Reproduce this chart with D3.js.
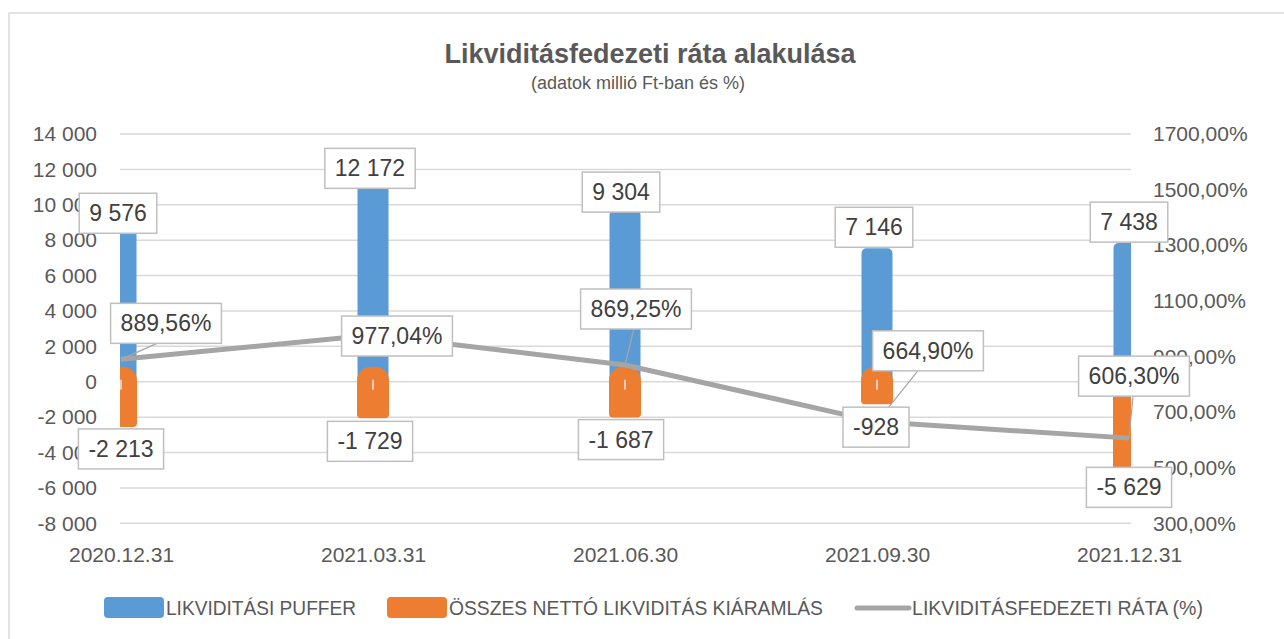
<!DOCTYPE html>
<html><head><meta charset="utf-8">
<script src="https://cdn.jsdelivr.net/npm/d3@7"></script>
<style>
html,body{margin:0;padding:0;background:#fff;}
svg{display:block;font-family:"Liberation Sans",Arial,sans-serif;}
</style></head>
<body><svg id="chart" width="1284" height="639"></svg>
<script>
// ---- data ----
const categories = ["2020.12.31","2021.03.31","2021.06.30","2021.09.30","2021.12.31"];
const puffer = [9576, 12172, 9304, 7146, 7438];
const kiaramlas = [-2213, -1729, -1687, -928, -5629];
const rata = [889.56, 977.04, 869.25, 664.90, 606.30];
const leftTicks = [-8000,-6000,-4000,-2000,0,2000,4000,6000,8000,10000,12000,14000];
const rightTicks = [300,500,700,900,1100,1300,1500,1700];
const seriesNames = ["LIKVIDITÁSI PUFFER","ÖSSZES NETTÓ LIKVIDITÁS KIÁRAMLÁS","LIKVIDITÁSFEDEZETI RÁTA (%)"];
const title = "Likviditásfedezeti ráta alakulása";
const subtitle = "(adatok millió Ft-ban és %)";
// label placement (manual offsets, px), layout only
const pufferLabelOff = [[-3,1],[-3,2],[-4,-25],[-3,-28],[0,-28]];
const kiarLabelOff = [[0,28],[-3,29],[-4,28],[-1,29],[0,6]];
const rataLabelOff = [[45,-36],[24,1],[11,-56],[51,-71],[5,-62]];

const C = {blue:"#5b9bd5", orange:"#ed7d31", gray:"#a5a5a5", text:"#595959", grid:"#d9d9d9", lbl:"#404040", box:"#bfbfbf"};
const svg = d3.select("#chart");
const plot = {l:120, r:1131, t:134, b:523.3};

const x = d3.scalePoint().domain(categories).range([121,1129]);
const y = d3.scaleLinear().domain([-8000,14000]).range([plot.b, plot.t]);
const y2 = d3.scaleLinear().domain([300,1700]).range([plot.b, plot.t]);

const fmtN = v => { const s = d3.format(",")(Math.abs(v)).replace(/,/g," "); return (v<0?"-":"")+s; };
const fmtP = v => d3.format(".2f")(v).replace(".",",")+"%";

// outer border
svg.append("rect").attr("x",9).attr("y",13).attr("width",1400).attr("height",800)
  .attr("fill","none").attr("stroke","#d9d9d9").attr("stroke-width",1.5);

// titles
svg.append("text").attr("x",650).attr("y",63).attr("text-anchor","middle")
  .attr("font-size",27).attr("font-weight","bold").attr("fill",C.text).text(title);
svg.append("text").attr("x",638).attr("y",89).attr("text-anchor","middle")
  .attr("font-size",18).attr("fill",C.text).text(subtitle);

// gridlines
svg.append("g").selectAll("line").data(leftTicks).join("line")
  .attr("x1",plot.l).attr("x2",plot.r).attr("y1",d=>y(d)).attr("y2",d=>y(d))
  .attr("stroke",C.grid).attr("stroke-width",1.5);

// left axis
const ga = svg.append("g").attr("transform",`translate(${plot.l-23},0)`)
  .call(d3.axisLeft(y).tickValues(leftTicks).tickSize(0).tickPadding(0).tickFormat(fmtN));
ga.select(".domain").remove();
ga.selectAll("text").attr("font-size",21).attr("fill",C.text).attr("font-family","Liberation Sans, Arial, sans-serif");

// right axis
const gr = svg.append("g").attr("transform",`translate(1153,0)`)
  .call(d3.axisRight(y2).tickValues(rightTicks).tickSize(0).tickPadding(0).tickFormat(d=>d3.format(".2f")(d).replace(".",",")+"%"));
gr.select(".domain").remove();
gr.selectAll("text").attr("font-size",21).attr("fill",C.text).attr("font-family","Liberation Sans, Arial, sans-serif");

// x axis labels
const gx = svg.append("g").attr("transform",`translate(0,${plot.b+6})`)
  .call(d3.axisBottom(x).tickSize(0).tickPadding(18));
gx.select(".domain").remove();
gx.selectAll("text").attr("font-size",21).attr("fill",C.text).attr("font-family","Liberation Sans, Arial, sans-serif");

// clip
svg.append("clipPath").attr("id","pc").append("rect")
  .attr("x",plot.l).attr("y",0).attr("width",plot.r-plot.l).attr("height",639);
const bars = svg.append("g").attr("clip-path","url(#pc)");
const bw = 31;

function roundedPath(x0, y0, w, h, rt, rb){
  const p = d3.path();
  p.moveTo(x0+rt, y0);
  p.lineTo(x0+w-rt, y0);
  p.arcTo(x0+w, y0, x0+w, y0+rt, rt);
  p.lineTo(x0+w, y0+h-rb);
  p.arcTo(x0+w, y0+h, x0+w-rb, y0+h, rb);
  p.lineTo(x0+rb, y0+h);
  p.arcTo(x0, y0+h, x0, y0+h-rb, rb);
  p.lineTo(x0, y0+rt);
  p.arcTo(x0, y0, x0+rt, y0, rt);
  p.closePath();
  return p.toString();
}

// blue bars
bars.selectAll("path.pb").data(puffer).join("path").attr("class","pb")
  .attr("d",(d,i)=>{const top=y(d)-7, bot=y(0); return roundedPath(x(categories[i])-bw/2, top, bw, bot-top, 5, 0);})
  .attr("fill",C.blue);
// orange bars
bars.selectAll("path.po").data(kiaramlas).join("path").attr("class","po")
  .attr("d",(d,i)=>{const top=y(0)-15, bot=y(d)+6; return roundedPath(x(categories[i])-(bw+1)/2, top, bw+1, bot-top, 14, 4);})
  .attr("fill",C.orange);
// small ticks at zero
bars.selectAll("line.zt").data(categories).join("line").attr("class","zt")
  .attr("x1",d=>x(d)).attr("x2",d=>x(d)).attr("y1",y(0)-2).attr("y2",y(0)+8)
  .attr("stroke","#e6e6e6").attr("stroke-width",1.5);

// line
svg.append("path").datum(rata)
  .attr("d", d3.line().x((d,i)=>x(categories[i])).y(d=>y2(d)))
  .attr("fill","none").attr("stroke",C.gray).attr("stroke-width",5).attr("stroke-linejoin","round");

// labels
const labelLayer = svg.append("g");
const leaderLayer = svg.append("g");
function addLabels(values, yfn, offs, fmt, leader){
  values.forEach((v,i)=>{
    const ax = x(categories[i]), ay = yfn(v);
    const cx = ax+offs[i][0], cy = ay+offs[i][1];
    const g = labelLayer.append("g");
    const t = g.append("text").attr("x",cx).attr("y",cy+8).attr("text-anchor","middle")
      .attr("font-size",23).attr("fill",C.lbl).text(fmt(v));
    const w = t.node().getComputedTextLength()+20, h = 40;
    g.insert("rect","text").attr("x",cx-w/2).attr("y",cy-h/2).attr("width",w).attr("height",h)
      .attr("fill","#fff").attr("stroke",C.box).attr("stroke-width",1.5);
    if(leader){
      const dx = ax-cx, dy = ay-cy;
      if(Math.abs(dy) > h/2+4 || Math.abs(dx) > w/2+4){
        let sx, sy;
        if(Math.abs(dy) > h/2){ sy = cy + Math.sign(dy)*h/2; sx = cx + Math.max(-w/2+15, Math.min(w/2-15, dx*0.2)); }
        else { sx = cx + Math.sign(dx)*w/2; sy = cy; }
        leaderLayer.append("line").attr("x1",sx).attr("y1",sy).attr("x2",ax).attr("y2",ay)
          .attr("stroke","#a6a6a6").attr("stroke-width",1.2);
      }
    }
  });
}
addLabels(puffer, y, pufferLabelOff, fmtN, false);
addLabels(kiaramlas, y, kiarLabelOff, fmtN, false);
addLabels(rata, y2, rataLabelOff, fmtP, true);
labelLayer.raise();

// legend
const lg = svg.append("g");
const lx = [104, 387, 855], tx = [166, 449, 912], tl = [190, 374, 291];
lg.append("rect").attr("x",lx[0]).attr("y",597).attr("width",60).attr("height",21).attr("rx",4).attr("fill",C.blue);
lg.append("rect").attr("x",lx[1]).attr("y",597).attr("width",60).attr("height",21).attr("rx",4).attr("fill",C.orange);
lg.append("line").attr("x1",lx[2]+2).attr("x2",lx[2]+54).attr("y1",608).attr("y2",608)
  .attr("stroke",C.gray).attr("stroke-width",5).attr("stroke-linecap","round");
seriesNames.forEach((n,i)=>{
  lg.append("text").attr("x",tx[i]).attr("y",615).attr("font-size",19.5).attr("fill",C.text)
    .attr("textLength",tl[i]).attr("lengthAdjust","spacingAndGlyphs").text(n);
});
</script></body></html>
